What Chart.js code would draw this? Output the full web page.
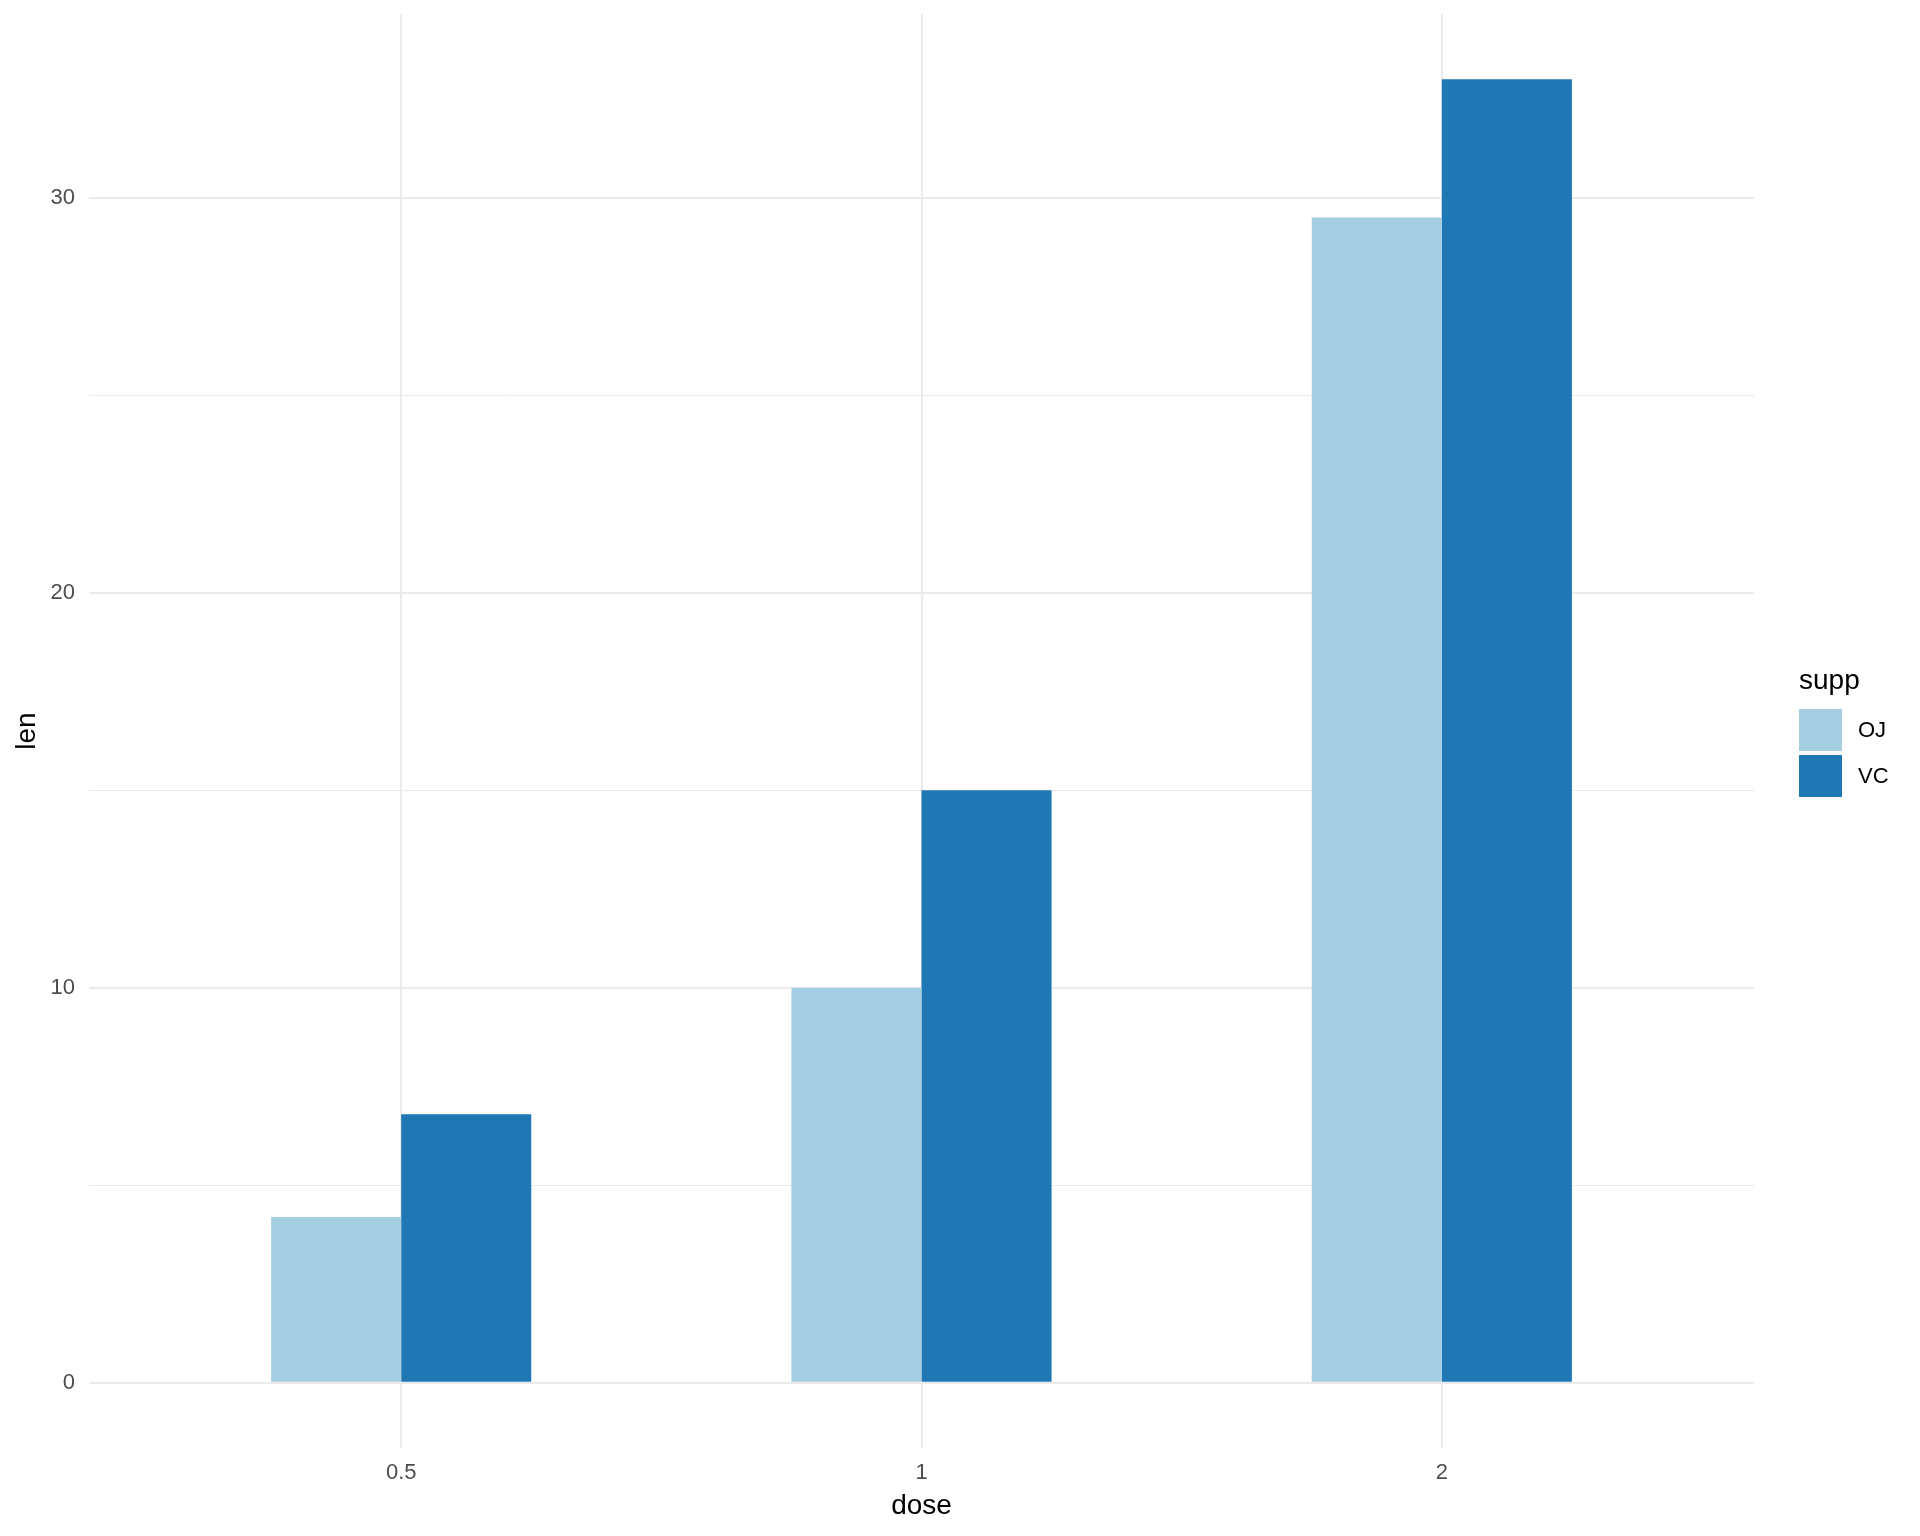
<!DOCTYPE html>
<html>
<head>
<meta charset="utf-8">
<script src="https://cdn.jsdelivr.net/npm/chart.js@4/dist/chart.umd.min.js"></script>
<style>
  html, body { margin: 0; padding: 0; background: #ffffff; }
  #wrap { width: 1920px; height: 1536px; }
</style>
</head>
<body>
<div id="wrap"><canvas id="c" width="1920" height="1536"></canvas></div>
<script>
// ---- data ----
const doseLabels = ['0.5', '1', '2'];
const doseIndex = [0, 1, 2];
const ojLen = [4.2, 10.0, 29.5];
const vcLen = [6.8, 15.0, 33.0];
const seriesNames = ['OJ', 'VC'];
const seriesColors = ['#a6cee3', '#1f78b4'];
const yTicks = [0, 5, 10, 15, 20, 25, 30];
const yLabelTicks = [0, 10, 20, 30];
const legendTitle = 'supp';
const xTitle = 'dose';
const yTitle = 'len';

const FONT = "'Liberation Sans', Arial, sans-serif";

const toPoints = (vals) => doseIndex.map((x, i) => ({ x: x, y: vals[i] }));

const legendPlugin = {
  id: 'ggLegend',
  afterDraw(chart) {
    const ctx = chart.ctx;
    ctx.save();
    ctx.fillStyle = '#000000';
    ctx.font = '28px ' + FONT;
    ctx.textAlign = 'left';
    ctx.textBaseline = 'alphabetic';
    ctx.fillText(legendTitle, 1799, 689);
    const keyX = 1799, keyW = 43, keyH = 42, keyTop = 709, keyStep = 46;
    chart.data.datasets.forEach((ds, i) => {
      const y = keyTop + i * keyStep;
      ctx.fillStyle = ds.backgroundColor;
      ctx.fillRect(keyX, y, keyW, keyH);
      ctx.fillStyle = '#000000';
      ctx.font = '22px ' + FONT;
      ctx.textBaseline = 'middle';
      ctx.fillText(ds.label, 1858, y + keyH / 2 + 1);
    });
    ctx.restore();
  }
};

new Chart(document.getElementById('c'), {
  type: 'bar',
  data: {
    datasets: [
      { label: seriesNames[0], data: toPoints(ojLen), backgroundColor: seriesColors[0], borderWidth: 0 },
      { label: seriesNames[1], data: toPoints(vcLen), backgroundColor: seriesColors[1], borderWidth: 0 }
    ]
  },
  options: {
    responsive: false,
    animation: false,
    devicePixelRatio: 1,
    layout: { padding: { top: 14, right: 166, left: 0, bottom: 0 } },
    datasets: { bar: { categoryPercentage: 0.5, barPercentage: 1.0 } },
    plugins: {
      legend: { display: false },
      tooltip: { enabled: false },
      title: { display: false }
    },
    scales: {
      x: {
        type: 'linear',
        min: -0.6,
        max: 2.6,
        offset: false,
        afterBuildTicks: (s) => { s.ticks = doseIndex.map(v => ({ value: v })); },
        afterFit: (s) => { s.height = 88; s.paddingLeft = 0; s.paddingRight = 0; s.paddingTop = 0; s.paddingBottom = 0; },
        grid: { offset: false, color: '#ebebeb', lineWidth: 2, drawTicks: false },
        border: { display: false },
        ticks: {
          padding: 12,
          color: '#4d4d4d',
          font: { family: FONT, size: 22 },
          autoSkip: false,
          maxRotation: 0,
          callback: (v) => doseLabels[v]
        },
        title: {
          display: true,
          text: xTitle,
          color: '#000000',
          font: { family: FONT, size: 28 },
          padding: { top: 0, bottom: 12.7 }
        }
      },
      y: {
        type: 'linear',
        min: -1.65,
        max: 34.65,
        afterBuildTicks: (s) => { s.ticks = yTicks.map(v => ({ value: v })); },
        afterFit: (s) => { s.width = 89; s.paddingTop = 0; s.paddingBottom = 0; s.paddingLeft = 0; s.paddingRight = 0; },
        grid: {
          color: '#ebebeb',
          lineWidth: (c) => (yLabelTicks.includes(c.tick.value) ? 2 : 1),
          drawTicks: false
        },
        border: { display: false },
        ticks: {
          padding: 14,
          color: '#4d4d4d',
          font: { family: FONT, size: 22 },
          autoSkip: false,
          callback: (v) => (yLabelTicks.includes(v) ? String(v) : '')
        },
        title: {
          display: true,
          text: yTitle,
          color: '#000000',
          font: { family: FONT, size: 28 },
          padding: { top: 10.4, bottom: 0 }
        }
      }
    }
  },
  plugins: [legendPlugin]
});
</script>
</body>
</html>
